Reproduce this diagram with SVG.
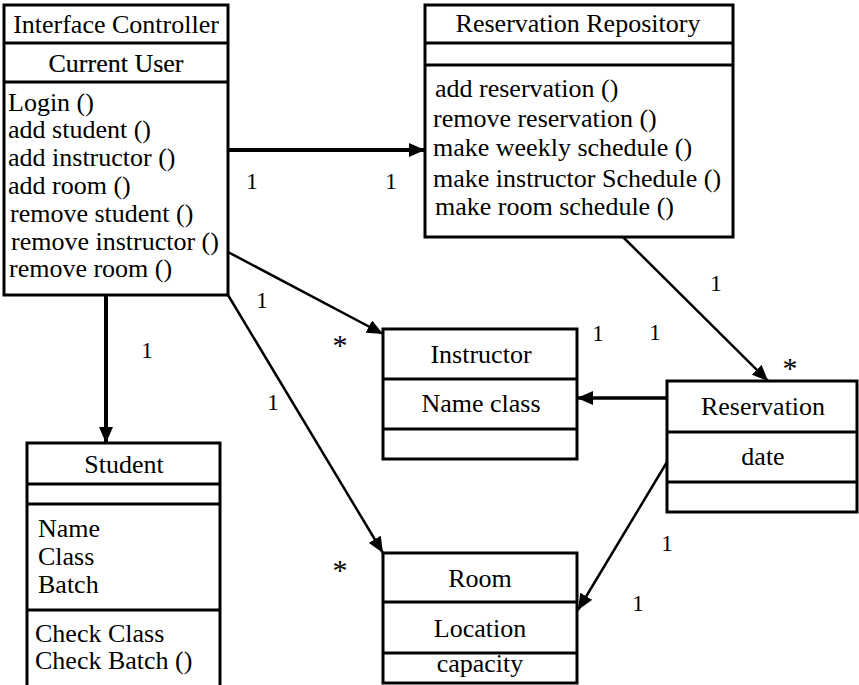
<svg xmlns="http://www.w3.org/2000/svg" width="859" height="685" viewBox="0 0 859 685">
<style>
.box{fill:#fff;stroke:#000;stroke-width:3}
.sep{stroke:#000;stroke-width:3}
.t{font-size:26px}
.c{text-anchor:middle}
.lbl{font-size:23px;text-anchor:middle}
.ast{font-size:30px;text-anchor:middle}
.con{stroke:#000;fill:none;marker-end:url(#arr)}
</style>
<defs>
<marker id="arr" markerWidth="16" markerHeight="14" refX="16" refY="7" orient="auto" markerUnits="userSpaceOnUse">
<path d="M0,0 L16,7 L0,14 z" fill="#000"/>
</marker>
</defs>
<rect width="859" height="685" fill="#fff"/>
<g font-family="'Liberation Serif', 'Times New Roman', 'DejaVu Serif', serif" fill="#000">
<g id="connectors">
<line class="con" x1="228" y1="150" x2="425" y2="150" stroke-width="4"/>
<line class="con" x1="106" y1="295" x2="106" y2="443" stroke-width="4"/>
<line class="con" x1="228" y1="252" x2="383" y2="334" stroke-width="2.5"/>
<line class="con" x1="228" y1="295" x2="383" y2="553" stroke-width="2.5"/>
<line class="con" x1="623" y1="237" x2="768" y2="381" stroke-width="2.5"/>
<line class="con" x1="667" y1="398" x2="577" y2="398" stroke-width="3.5"/>
<line class="con" x1="667" y1="462" x2="578" y2="610" stroke-width="2.5"/>
<text class="lbl" x="252" y="189">1</text>
<text class="lbl" x="391" y="189">1</text>
<text class="lbl" x="147" y="358">1</text>
<text class="lbl" x="262" y="308">1</text>
<text class="ast" x="340" y="355">*</text>
<text class="lbl" x="273" y="410">1</text>
<text class="ast" x="340" y="580">*</text>
<text class="lbl" x="598" y="341">1</text>
<text class="lbl" x="655" y="340">1</text>
<text class="lbl" x="716" y="291">1</text>
<text class="ast" x="790" y="378">*</text>
<text class="lbl" x="667" y="551">1</text>
<text class="lbl" x="638" y="611">1</text>
</g>

<g id="interface-controller">
<rect class="box" x="4" y="5" width="224" height="290"/>
<line class="sep" x1="4" y1="43" x2="228" y2="43"/>
<line class="sep" x1="4" y1="82" x2="228" y2="82"/>
<text class="t c" x="116" y="33">Interface Controller</text>
<text class="t c" x="116" y="72" stroke="#000" stroke-width="0.2">Current User</text>
<text class="t" x="8" y="111">Login ()</text>
<text class="t" x="8" y="138">add student ()</text>
<text class="t" x="8" y="166">add instructor ()</text>
<text class="t" x="8" y="194">add room ()</text>
<text class="t" x="10" y="222">remove student ()</text>
<text class="t" x="11" y="250">remove instructor ()</text>
<text class="t" x="9" y="277">remove room ()</text>
</g>

<g id="reservation-repository">
<rect class="box" x="425" y="5" width="308" height="232"/>
<line class="sep" x1="425" y1="43" x2="733" y2="43"/>
<line class="sep" x1="425" y1="65" x2="733" y2="65"/>
<text class="t c" x="578" y="32">Reservation Repository</text>
<text class="t" x="435" y="97">add reservation ()</text>
<text class="t" x="433" y="127">remove reservation ()</text>
<text class="t" x="433" y="156">make weekly schedule ()</text>
<text class="t" x="433" y="187">make instructor Schedule ()</text>
<text class="t" x="435" y="215">make room schedule ()</text>
</g>

<g id="student">
<rect class="box" x="27" y="443" width="193" height="245"/>
<line class="sep" x1="27" y1="484" x2="220" y2="484"/>
<line class="sep" x1="27" y1="504" x2="220" y2="504"/>
<line class="sep" x1="27" y1="610" x2="220" y2="610"/>
<text class="t c" x="124" y="473">Student</text>
<text class="t" x="38" y="537">Name</text>
<text class="t" x="38" y="565">Class</text>
<text class="t" x="38" y="593">Batch</text>
<text class="t" x="35" y="642">Check Class</text>
<text class="t" x="35" y="669">Check Batch ()</text>
</g>

<g id="instructor">
<rect class="box" x="383" y="329" width="194" height="130"/>
<line class="sep" x1="383" y1="379" x2="577" y2="379"/>
<line class="sep" x1="383" y1="429" x2="577" y2="429"/>
<text class="t c" x="481" y="363">Instructor</text>
<text class="t c" x="481" y="412">Name class</text>
</g>

<g id="reservation">
<rect class="box" x="667" y="381" width="190" height="131"/>
<line class="sep" x1="667" y1="432" x2="857" y2="432"/>
<line class="sep" x1="667" y1="482" x2="857" y2="482"/>
<text class="t c" x="763" y="415">Reservation</text>
<text class="t c" x="763" y="465">date</text>
</g>

<g id="room">
<rect class="box" x="383" y="553" width="194" height="130"/>
<line class="sep" x1="383" y1="602" x2="577" y2="602"/>
<line class="sep" x1="383" y1="653" x2="577" y2="653"/>
<text class="t c" x="480" y="587">Room</text>
<text class="t c" x="480" y="637">Location</text>
<text class="t c" x="480" y="672">capacity</text>
</g>
</g>
</svg>
